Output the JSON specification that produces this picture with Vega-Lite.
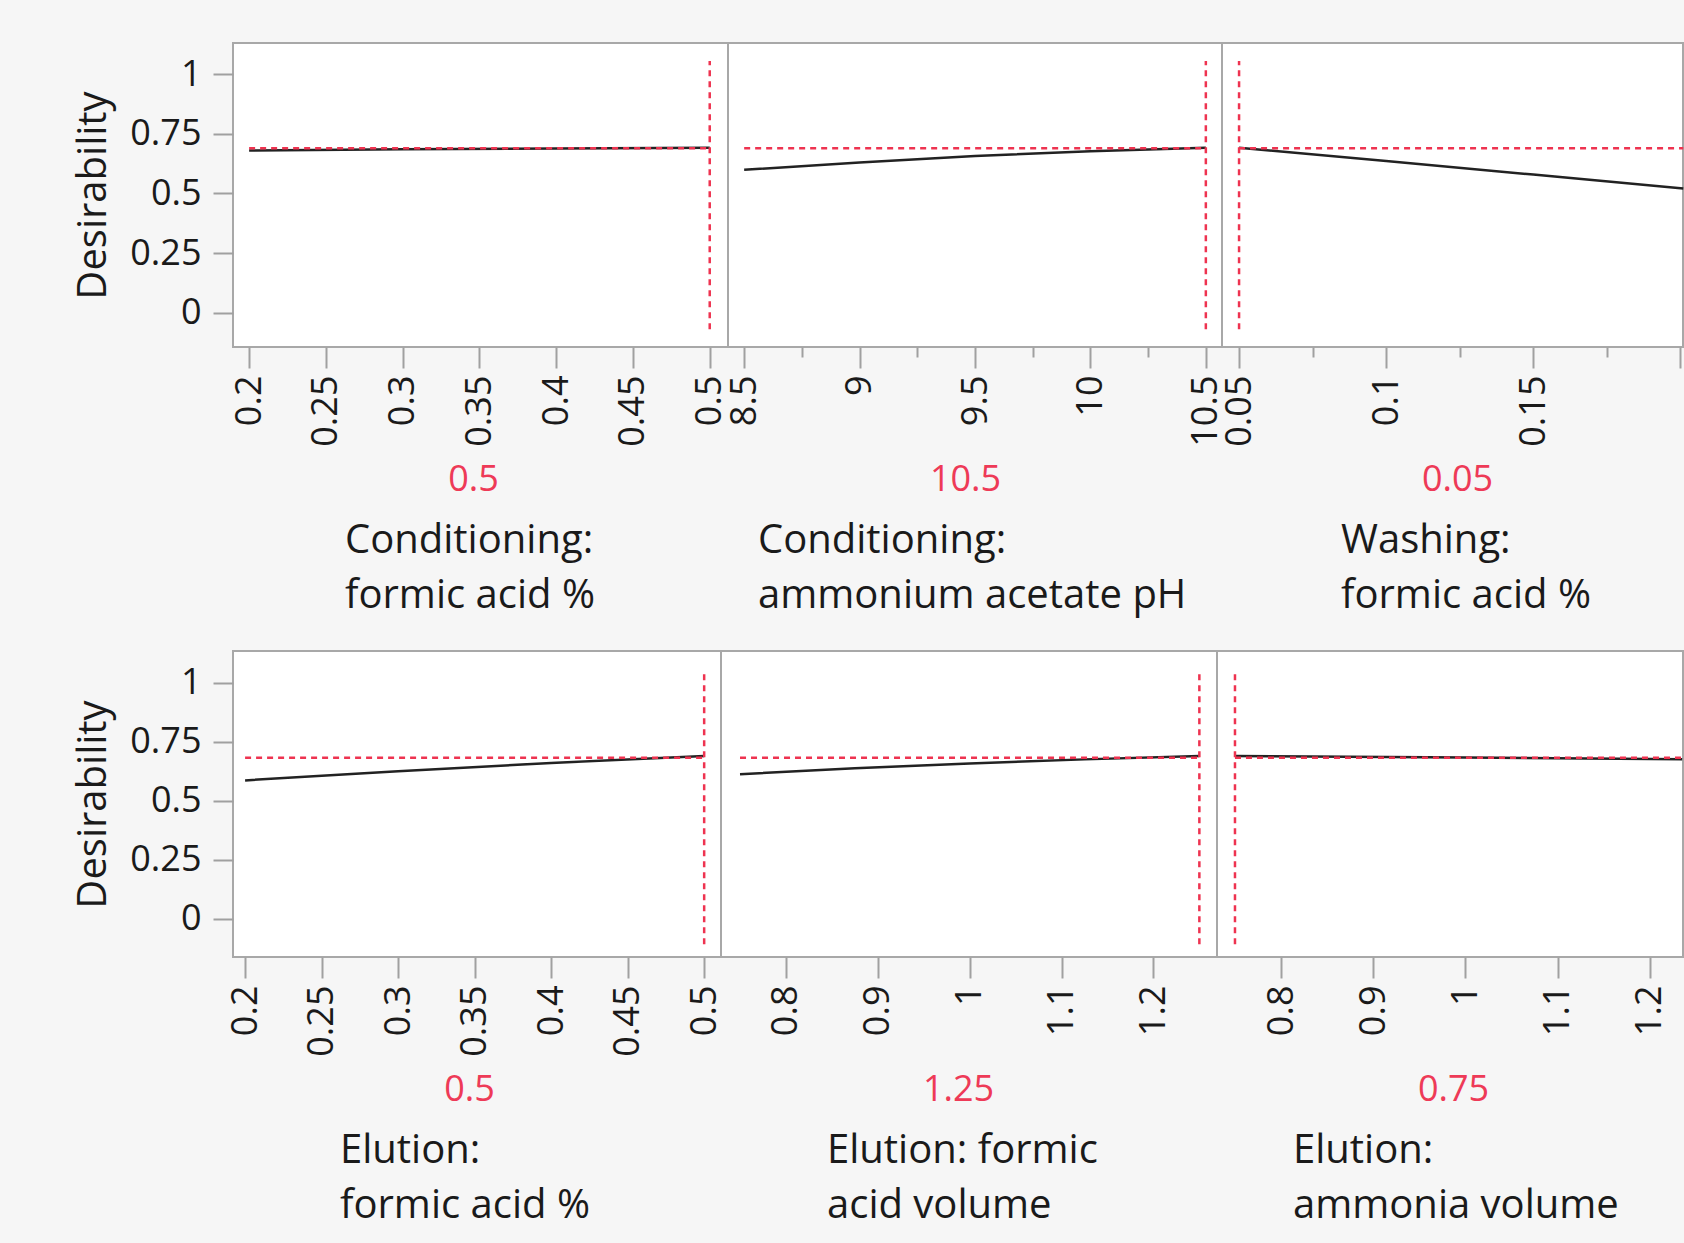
{
  "$schema": "https://vega.github.io/schema/vega-lite/v6.json",
  "padding": {"left": 72, "top": 42, "right": 0, "bottom": 16},
  "background": "#f6f6f6",
  "datasets": {
    "curves": [
      {"panel": "A1", "x": 0.2, "y": 0.68}, {"panel": "A1", "x": 0.3, "y": 0.685}, {"panel": "A1", "x": 0.4, "y": 0.689}, {"panel": "A1", "x": 0.5, "y": 0.692},
      {"panel": "A2", "x": 8.5, "y": 0.599}, {"panel": "A2", "x": 9.0, "y": 0.63}, {"panel": "A2", "x": 9.5, "y": 0.657}, {"panel": "A2", "x": 10.0, "y": 0.677}, {"panel": "A2", "x": 10.5, "y": 0.692},
      {"panel": "A3", "x": 0.05, "y": 0.692}, {"panel": "A3", "x": 0.1, "y": 0.636}, {"panel": "A3", "x": 0.15, "y": 0.579}, {"panel": "A3", "x": 0.201, "y": 0.521},
      {"panel": "B1", "x": 0.2, "y": 0.586}, {"panel": "B1", "x": 0.3, "y": 0.625}, {"panel": "B1", "x": 0.4, "y": 0.66}, {"panel": "B1", "x": 0.5, "y": 0.689},
      {"panel": "B2", "x": 0.75, "y": 0.612}, {"panel": "B2", "x": 0.875, "y": 0.637}, {"panel": "B2", "x": 1.0, "y": 0.658}, {"panel": "B2", "x": 1.125, "y": 0.675}, {"panel": "B2", "x": 1.25, "y": 0.689},
      {"panel": "B3", "x": 0.75, "y": 0.689}, {"panel": "B3", "x": 1.0, "y": 0.683}, {"panel": "B3", "x": 1.235, "y": 0.676}
    ],
    "hlines": [
      {"panel": "A1", "x": 0.2, "xend": 0.5, "y": 0.69},
      {"panel": "A2", "x": 8.5, "xend": 10.5, "y": 0.69},
      {"panel": "A3", "x": 0.05, "xend": 0.201, "y": 0.69},
      {"panel": "B1", "x": 0.2, "xend": 0.5, "y": 0.682},
      {"panel": "B2", "x": 0.75, "xend": 1.25, "y": 0.682},
      {"panel": "B3", "x": 0.75, "xend": 1.235, "y": 0.682}
    ],
    "vlines": [
      {"panel": "A1", "x": 0.5, "y": -0.07, "yend": 1.055},
      {"panel": "A2", "x": 10.5, "y": -0.07, "yend": 1.055},
      {"panel": "A3", "x": 0.05, "y": -0.07, "yend": 1.055},
      {"panel": "B1", "x": 0.5, "y": -0.108, "yend": 1.057},
      {"panel": "B2", "x": 1.25, "y": -0.108, "yend": 1.057},
      {"panel": "B3", "x": 0.75, "y": -0.108, "yend": 1.057}
    ]
  },
  "spacing": 32,
  "vconcat": [
    {
      "spacing": 0,
      "bounds": "flush",
      "hconcat": [
        {
          "width": 495, "height": 304,
          "title": {"text": ["Conditioning:", "formic acid %"], "dx": 112},
          "encoding": {
            "x": {"field": "x", "type": "quantitative", "scale": {"domain": [0.1895, 0.5119], "nice": false, "zero": false},
                  "axis": {"values": [0.2, 0.25, 0.3, 0.35, 0.4, 0.45, 0.5], "format": ".2~f", "title": "0.5", "titleX": 240}},
            "y": {"field": "y", "type": "quantitative", "scale": {"domain": [-0.144, 1.131], "nice": false, "zero": false},
                  "axis": {"values": [0, 0.25, 0.5, 0.75, 1], "format": ".2~f", "title": "Desirability"}}
          },
          "layer": [
            {"data": {"name": "curves"}, "transform": [{"filter": "datum.panel === 'A1'"}], "mark": {"type": "line", "color": "#222222", "strokeWidth": 2.5}},
            {"data": {"name": "hlines"}, "transform": [{"filter": "datum.panel === 'A1'"}], "mark": {"type": "rule", "color": "#ee3350", "strokeWidth": 2.5, "strokeDash": [6, 5]}, "encoding": {"x2": {"field": "xend"}}},
            {"data": {"name": "vlines"}, "transform": [{"filter": "datum.panel === 'A1'"}], "mark": {"type": "rule", "color": "#ee3350", "strokeWidth": 2.5, "strokeDash": [6, 5]}, "encoding": {"y2": {"field": "yend"}}}
          ]
        },
        {
          "width": 494, "height": 304,
          "title": {"text": ["Conditioning:", "ammonium acetate pH"], "dx": 30},
          "encoding": {
            "x": {"field": "x", "type": "quantitative", "scale": {"domain": [8.43, 10.57], "nice": false, "zero": false},
                  "axis": {"values": [8.5, 8.75, 9, 9.25, 9.5, 9.75, 10, 10.25, 10.5], "format": ".2~f", "title": "10.5", "titleX": 237,
                           "labelExpr": "round(datum.value*4) % 2 === 0 ? datum.label : ''",
                           "tickSize": {"condition": {"test": "round(datum.value*4) % 2 === 0", "value": 21}, "value": 10}}},
            "y": {"field": "y", "type": "quantitative", "scale": {"domain": [-0.144, 1.131], "nice": false, "zero": false}, "axis": null}
          },
          "layer": [
            {"data": {"name": "curves"}, "transform": [{"filter": "datum.panel === 'A2'"}], "mark": {"type": "line", "color": "#222222", "strokeWidth": 2.5}},
            {"data": {"name": "hlines"}, "transform": [{"filter": "datum.panel === 'A2'"}], "mark": {"type": "rule", "color": "#ee3350", "strokeWidth": 2.5, "strokeDash": [6, 5]}, "encoding": {"x2": {"field": "xend"}}},
            {"data": {"name": "vlines"}, "transform": [{"filter": "datum.panel === 'A2'"}], "mark": {"type": "rule", "color": "#ee3350", "strokeWidth": 2.5, "strokeDash": [6, 5]}, "encoding": {"y2": {"field": "yend"}}}
          ]
        },
        {
          "width": 461, "height": 304,
          "title": {"text": ["Washing:", "formic acid %"], "dx": 119},
          "encoding": {
            "x": {"field": "x", "type": "quantitative", "scale": {"domain": [0.0442, 0.2009], "nice": false, "zero": false},
                  "axis": {"values": [0.05, 0.075, 0.1, 0.125, 0.15, 0.175, 0.2], "format": ".3~f", "title": "0.05", "titleX": 235,
                           "labelExpr": "round(datum.value*40) % 2 === 0 && datum.value < 0.19 ? datum.label : ''",
                           "tickSize": {"condition": {"test": "round(datum.value*40) % 2 === 0", "value": 21}, "value": 10}}},
            "y": {"field": "y", "type": "quantitative", "scale": {"domain": [-0.144, 1.131], "nice": false, "zero": false}, "axis": null}
          },
          "layer": [
            {"data": {"name": "curves"}, "transform": [{"filter": "datum.panel === 'A3'"}], "mark": {"type": "line", "color": "#222222", "strokeWidth": 2.5}},
            {"data": {"name": "hlines"}, "transform": [{"filter": "datum.panel === 'A3'"}], "mark": {"type": "rule", "color": "#ee3350", "strokeWidth": 2.5, "strokeDash": [6, 5]}, "encoding": {"x2": {"field": "xend"}}},
            {"data": {"name": "vlines"}, "transform": [{"filter": "datum.panel === 'A3'"}], "mark": {"type": "rule", "color": "#ee3350", "strokeWidth": 2.5, "strokeDash": [6, 5]}, "encoding": {"y2": {"field": "yend"}}}
          ]
        }
      ]
    },
    {
      "spacing": 0,
      "bounds": "flush",
      "hconcat": [
        {
          "width": 488, "height": 306,
          "title": {"text": ["Elution:", "formic acid %"], "dx": 107},
          "encoding": {
            "x": {"field": "x", "type": "quantitative", "scale": {"domain": [0.1921, 0.511], "nice": false, "zero": false},
                  "axis": {"values": [0.2, 0.25, 0.3, 0.35, 0.4, 0.45, 0.5], "format": ".2~f", "title": "0.5", "titleX": 236}},
            "y": {"field": "y", "type": "quantitative", "scale": {"domain": [-0.162, 1.134], "nice": false, "zero": false},
                  "axis": {"values": [0, 0.25, 0.5, 0.75, 1], "format": ".2~f", "title": "Desirability"}}
          },
          "layer": [
            {"data": {"name": "curves"}, "transform": [{"filter": "datum.panel === 'B1'"}], "mark": {"type": "line", "color": "#222222", "strokeWidth": 2.5}},
            {"data": {"name": "hlines"}, "transform": [{"filter": "datum.panel === 'B1'"}], "mark": {"type": "rule", "color": "#ee3350", "strokeWidth": 2.5, "strokeDash": [6, 5]}, "encoding": {"x2": {"field": "xend"}}},
            {"data": {"name": "vlines"}, "transform": [{"filter": "datum.panel === 'B1'"}], "mark": {"type": "rule", "color": "#ee3350", "strokeWidth": 2.5, "strokeDash": [6, 5]}, "encoding": {"y2": {"field": "yend"}}}
          ]
        },
        {
          "width": 496, "height": 306,
          "title": {"text": ["Elution: formic", "acid volume"], "dx": 106},
          "encoding": {
            "x": {"field": "x", "type": "quantitative", "scale": {"domain": [0.7293, 1.2692], "nice": false, "zero": false},
                  "axis": {"values": [0.8, 0.9, 1, 1.1, 1.2], "format": ".2~f", "title": "1.25", "titleX": 237, "titlePadding": 36.6}},
            "y": {"field": "y", "type": "quantitative", "scale": {"domain": [-0.162, 1.134], "nice": false, "zero": false}, "axis": null}
          },
          "layer": [
            {"data": {"name": "curves"}, "transform": [{"filter": "datum.panel === 'B2'"}], "mark": {"type": "line", "color": "#222222", "strokeWidth": 2.5}},
            {"data": {"name": "hlines"}, "transform": [{"filter": "datum.panel === 'B2'"}], "mark": {"type": "rule", "color": "#ee3350", "strokeWidth": 2.5, "strokeDash": [6, 5]}, "encoding": {"x2": {"field": "xend"}}},
            {"data": {"name": "vlines"}, "transform": [{"filter": "datum.panel === 'B2'"}], "mark": {"type": "rule", "color": "#ee3350", "strokeWidth": 2.5, "strokeDash": [6, 5]}, "encoding": {"y2": {"field": "yend"}}}
          ]
        },
        {
          "width": 466, "height": 306,
          "title": {"text": ["Elution:", "ammonia volume"], "dx": 76},
          "encoding": {
            "x": {"field": "x", "type": "quantitative", "scale": {"domain": [0.7305, 1.2359], "nice": false, "zero": false},
                  "axis": {"values": [0.8, 0.9, 1, 1.1, 1.2], "format": ".2~f", "title": "0.75", "titleX": 236, "titlePadding": 36.6}},
            "y": {"field": "y", "type": "quantitative", "scale": {"domain": [-0.162, 1.134], "nice": false, "zero": false}, "axis": null}
          },
          "layer": [
            {"data": {"name": "curves"}, "transform": [{"filter": "datum.panel === 'B3'"}], "mark": {"type": "line", "color": "#222222", "strokeWidth": 2.5}},
            {"data": {"name": "hlines"}, "transform": [{"filter": "datum.panel === 'B3'"}], "mark": {"type": "rule", "color": "#ee3350", "strokeWidth": 2.5, "strokeDash": [6, 5]}, "encoding": {"x2": {"field": "xend"}}},
            {"data": {"name": "vlines"}, "transform": [{"filter": "datum.panel === 'B3'"}], "mark": {"type": "rule", "color": "#ee3350", "strokeWidth": 2.5, "strokeDash": [6, 5]}, "encoding": {"y2": {"field": "yend"}}}
          ]
        }
      ]
    }
  ],
  "config": {
    "font": "Open Sans",
    "view": {"stroke": "#a8a8a8", "strokeWidth": 2, "fill": "#ffffff"},
    "axis": {"domain": false, "grid": false, "tickColor": "#a0a0a0", "tickWidth": 2, "labelFont": "Open Sans", "titleFont": "Open Sans", "labelFontSize": 36, "labelColor": "#1a1a1a", "titleFontWeight": "normal"},
    "axisX": {"labelAngle": -90, "tickSize": 21, "labelPadding": 7, "titleColor": "#ee3a57", "titleFontSize": 36, "titlePadding": 16, "labelFlush": false, "labelOverlap": false},
    "axisY": {"tickSize": 20, "labelPadding": 12, "titleFontSize": 40, "titleColor": "#1a1a1a", "titlePadding": 16, "labelFlush": false, "labelOverlap": false},
    "title": {"orient": "bottom", "anchor": "start", "frame": "group", "font": "Open Sans", "fontSize": 40, "fontWeight": "normal", "color": "#1a1a1a", "lineHeight": 55, "offset": 24}
  }
}
